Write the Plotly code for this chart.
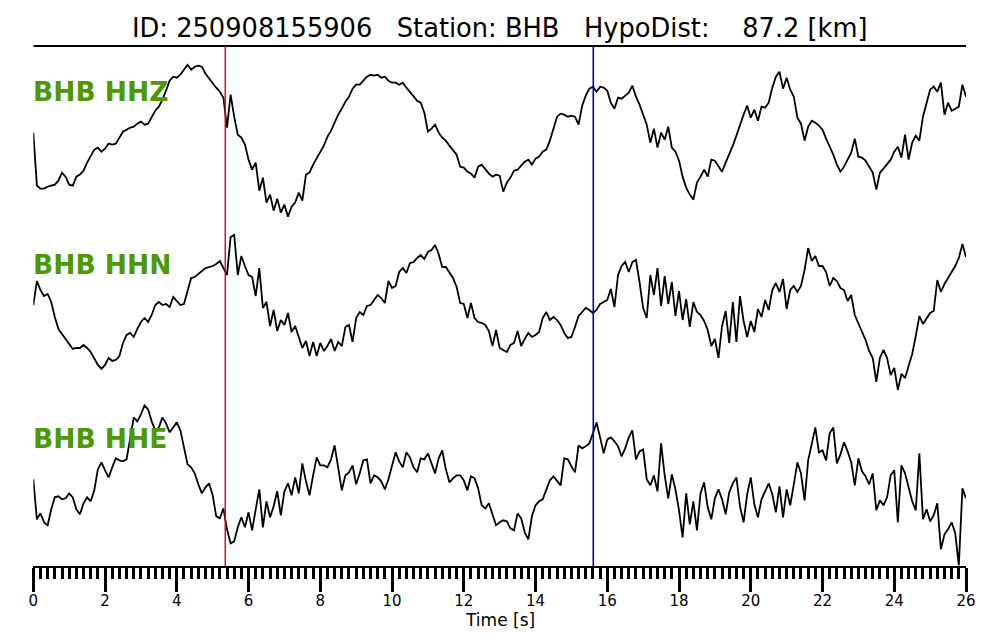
import numpy as np
import plotly.graph_objects as go

# ---------------- data (amplitudes in arbitrary counts, sampled every 0.1 s) -------------
DT = 0.1
STATION = "BHB"
EVENT_ID = "250908155906"
HYPO_DIST_KM = 87.2
CHANNELS = ["HHZ", "HHN", "HHE"]
P_PICK = 5.35    # s
S_PICK = 15.61   # s
X_TICKS = [0, 2, 4, 6, 8, 10, 12, 14, 16, 18, 20, 22, 24, 26]
X_LABEL = "Time [s]"

HHZ = [0, -53, -56, -56, -54, -53, -52, -48, -40, -44,
       -52, -53, -44, -42, -38, -30, -24, -17, -15, -19,
       -16, -11, -12, -11, -5, 1, 3, 5, 6, 9,
       11, 8, 9, 15, 22, 26, 33, 42, 52, 56,
       55, 58, 63, 68, 63, 66, 67, 66, 59, 54,
       49, 45, 41, 35, 5, 38, 16, -2, -5, -12,
       -27, -37, -30, -58, -45, -70, -62, -78, -66, -80,
       -72, -84, -74, -70, -60, -68, -42, -40, -32, -26,
       -20, -13, -4, 2, 10, 18, 24, 31, 36, 44,
       48, 48, 52, 56, 58, 57, 58, 55, 56, 52,
       50, 50, 48, 50, 45, 41, 36, 32, 30, 20,
       1, 4, 8, 0, -5, -8, -13, -17, -22, -34,
       -35, -39, -41, -45, -34, -32, -37, -41, -44, -42,
       -43, -59, -50, -45, -38, -37, -33, -29, -27, -32,
       -26, -24, -19, -17, -8, 5, 16, 19, 18, 16,
       17, 16, 8, 27, 37, 44, 46, 41, 46, 45,
       42, 30, 24, 35, 34, 37, 40, 47, 36, 28,
       18, 8, -10, 4, -15, 0, -7, 6, -15, -19,
       -28, -44, -55, -62, -67, -50, -44, -37, -44, -27,
       -28, -33, -39, -30, -22, -13, -3, 8, 18, 27,
       15, 23, 12, 26, 25, 30, 45, 56, 61, 44,
       55, 43, 36, 15, 9, -8, 6, 12, 10, 7,
       3, -6, -14, -22, -32, -39, -34, -27, -20, -6,
       -24, -25, -28, -34, -40, -57, -40, -36, -31, -27,
       -19, -14, -25, -2, -27, -10, -3, -8, 16, 29,
       43, 46, 41, 50, 18, 30, 22, 24, 26, 48,
       36]

HHN = [1, 25, 16, 10, 12, 4, -11, -23, -28, -33,
       -38, -43, -42, -42, -39, -42, -46, -53, -59, -63,
       -59, -52, -55, -54, -50, -37, -29, -27, -31, -23,
       -16, -12, -16, -9, 1, 4, 1, 2, -1, 9,
       5, 1, 2, 16, 28, 29, 32, 35, 38, 39,
       40, 42, 45, 38, 31, 69, 71, 31, 50, 40,
       31, 29, 10, 38, -2, 4, -20, -4, -25, -14,
       -19, -7, -26, -20, -32, -42, -35, -50, -36, -50,
       -37, -45, -40, -33, -45, -36, -40, -21, -19, -36,
       -12, -6, -9, 0, 1, 6, 11, 8, 3, 25,
       18, 20, 34, 38, 33, 43, 44, 48, 51, 47,
       54, 56, 61, 52, 39, 39, 33, 28, 19, 3,
       2, -12, 3, -12, -16, -17, -19, -25, -40, -24,
       -42, -44, -46, -39, -37, -25, -40, -33, -27, -31,
       -29, -26, -12, -6, -14, -11, -14, -19, -27, -32,
       -31, -21, -10, -6, -2, -4, -7, -4, 2, 4,
       6, 17, -1, 31, 40, 44, 34, 44, 46, 24,
       -2, -12, 31, 11, 38, 0, 30, 2, 24, -10,
       15, -14, 7, -21, 4, -6, -9, -15, -24, -40,
       -33, -52, -20, -5, -37, 4, -36, 10, -15, -31,
       -15, -26, -3, -11, 6, -4, 16, 23, 14, 27,
       -3, 16, 20, 14, 20, 36, 58, 45, 50, 40,
       40, 34, 20, 28, 25, 18, 16, 5, 11, -9,
       -17, -26, -34, -45, -52, -76, -52, -44, -52, -69,
       -62, -84, -68, -72, -60, -48, -30, -10, -18, -12,
       -7, -5, 26, 14, 22, 28, 34, 40, 48, 62,
       49]

HHE = [0, -40, -34, -43, -46, -30, -18, -17, -20, -19,
       -14, -18, -30, -35, -24, -18, -22, -11, 10, 17,
       9, 2, 12, 21, 19, 18, 20, 42, 62, 58,
       65, 74, 70, 58, 49, 52, 62, 56, 47, 52,
       57, 49, 33, 15, 12, 6, -5, -14, -8, -4,
       -16, -37, -39, -29, -50, -64, -62, -48, -38, -48,
       -33, -51, -30, -10, -48, -22, -38, -27, -12, -36,
       -12, -4, -16, 2, -14, 16, -2, -16, 4, 22,
       14, 14, 12, 20, 34, 10, -11, 4, 7, 14,
       -5, 6, 19, 20, -4, 4, 2, -2, -10, 0,
       14, 27, 18, 12, 27, 22, 12, 7, 21, 20,
       26, 16, 6, 21, 29, 10, -3, 1, 4, 4,
       -1, -11, 3, 1, -9, -26, -29, -24, -34, -46,
       -43, -41, -42, -49, -51, -34, -39, -53, -60, -37,
       -26, -22, -20, -10, -1, 3, -1, -6, 21, 20,
       13, 7, 34, 31, 33, 36, 46, 57, 42, 26,
       40, 42, 38, 33, 23, 31, 42, 49, 20, 28,
       30, 0, -6, 4, -12, 36, 4, -19, 5, -10,
       -31, -58, -14, -45, -22, -51, -14, -3, -28, -40,
       -19, -10, -20, -35, -13, -4, 2, -27, -43, -15,
       2, -25, -38, -20, -12, -4, -15, -33, -7, -38,
       -10, -26, -5, 17, 6, -21, 19, 37, 52, 27,
       29, 19, 46, 52, 16, 25, 37, 28, 17, -6,
       21, 8, 3, -5, 6, -31, -21, -26, -18, 4,
       9, -43, 14, 6, -8, -22, -31, 26, -40, -30,
       -42, -36, -24, -70, -55, -50, -43, -54, -86, -9,
       -19]

SERIES = {"HHZ": HHZ, "HHN": HHN, "HHE": HHE}

# ---------------- figure ----------------
W, H = 1000, 640
X_DOM = [0.0333, 0.966]
TOP, BOT = 1 - 46 / H, 1 - 566 / H
PANEL_H = (TOP - BOT) / 3
YR = 86.7
GREEN = "#4a9a00"
FONT = "DejaVu Sans"

fig = go.Figure()
for i, ch in enumerate(CHANNELS):
    vals = SERIES[ch]
    t = np.arange(len(vals)) * DT
    fig.add_trace(go.Scatter(
        x=t, y=vals, mode="lines",
        line=dict(color="black", width=1.8),
        xaxis="x", yaxis="y" if i == 0 else f"y{i+1}",
        showlegend=False, hoverinfo="skip"))

layout = dict(
    width=W, height=H,
    margin=dict(l=0, r=0, t=0, b=0, pad=0, autoexpand=False),
    paper_bgcolor="white", plot_bgcolor="white",
    font=dict(family=FONT, color="black"),
    showlegend=False,
    xaxis=dict(
        domain=X_DOM, range=[0, 26], anchor="y3", automargin=False,
        tickmode="array", tickvals=X_TICKS, ticktext=[str(v) for v in X_TICKS],
        ticks="outside", ticklen=24, tickwidth=3, tickcolor="black",
        ticklabelstandoff=-4,
        minor=dict(dtick=0.2, ticks="outside", ticklen=11, tickwidth=2.5,
                   tickcolor="black", showgrid=False),
        showline=True, linecolor="black", linewidth=2,
        showgrid=False, zeroline=False,
        tickfont=dict(size=15, family=FONT),
    ),
)
for i in range(3):
    key = "yaxis" if i == 0 else f"yaxis{i+1}"
    top = TOP - i * PANEL_H
    layout[key] = dict(
        domain=[top - PANEL_H, top], range=[-YR, YR], anchor="x", automargin=False,
        visible=False, showgrid=False, zeroline=False, fixedrange=True)
fig.update_layout(**layout)

shapes = [
    dict(type="line", xref="x", yref="paper", x0=0, x1=26, y0=TOP, y1=TOP,
         line=dict(color="black", width=2)),
    dict(type="line", xref="x", yref="paper", x0=P_PICK, x1=P_PICK, y0=BOT, y1=TOP,
         line=dict(color="#ee0000", width=1.4)),
    dict(type="line", xref="x", yref="paper", x0=S_PICK, x1=S_PICK, y0=BOT, y1=TOP,
         line=dict(color="#0000dd", width=1.6)),
]
fig.update_layout(shapes=shapes)

NB = "\u00a0"
title = (f"ID: {EVENT_ID}{NB*3}Station: {STATION}{NB*3}HypoDist:{NB*4}"
         f"{HYPO_DIST_KM:.1f} [km]")
ann = [dict(text=title, x=0.5, y=1 - 28 / H, xref="paper", yref="paper",
            xanchor="center", yanchor="middle", showarrow=False,
            font=dict(size=25.7, family=FONT, color="black")),
       dict(text=X_LABEL, x=0.5, y=1 - 620 / H, xref="paper", yref="paper",
            xanchor="center", yanchor="middle", showarrow=False,
            font=dict(size=17, family=FONT, color="black"))]
label_y = [91, 264, 438]
for ch, ly in zip(CHANNELS, label_y):
    ann.append(dict(text=f"<b>{STATION} {ch}</b>", x=X_DOM[0] - 0.002, y=1 - ly / H,
                    xref="paper", yref="paper", xanchor="left", yanchor="middle",
                    showarrow=False, font=dict(size=26.5, family=FONT, color=GREEN)))
fig.update_layout(annotations=ann)

fig.write_html("out.html", config={"displayModeBar": False},
               post_script="document.body.style.margin='0';")
